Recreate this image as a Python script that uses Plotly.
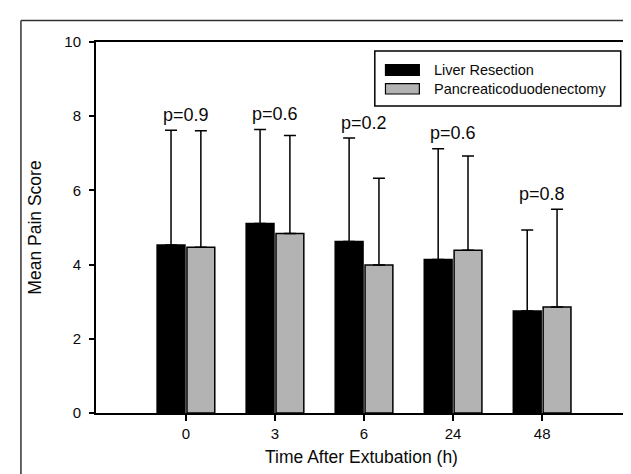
import plotly.graph_objects as go

# ---- data ----
categories = ["0", "3", "6", "24", "48"]
series_names = ["Liver Resection", "Pancreaticoduodenectomy"]
liver_mean = [4.53, 5.11, 4.62, 4.14, 2.75]
liver_sd = [3.09, 2.53, 2.79, 2.98, 2.18]
panc_mean = [4.47, 4.84, 3.99, 4.39, 2.86]
panc_sd = [3.14, 2.64, 2.34, 2.54, 2.63]
p_values = ["p=0.9", "p=0.6", "p=0.2", "p=0.6", "p=0.8"]
y_ticks = [0, 2, 4, 6, 8, 10]

FONT = "Liberation Sans, Arial, sans-serif"
TXT = "#0a0a0a"
GREY = "#b3b3b3"

fig = go.Figure()
for name, mean, sd, color in [
    (series_names[0], liver_mean, liver_sd, "#000000"),
    (series_names[1], panc_mean, panc_sd, GREY),
]:
    fig.add_trace(go.Bar(
        x=categories, y=mean, name=name,
        marker=dict(color=color, line=dict(color="#000000", width=1.5)),
        error_y=dict(type="data", symmetric=False, array=sd,
                     arrayminus=[0] * len(sd), color="#000000",
                     thickness=1.5, width=6),
        showlegend=False,
    ))

# p-value labels above each group (x given as category index)
for i, p in enumerate(p_values):
    top = max(liver_mean[i] + liver_sd[i], panc_mean[i] + panc_sd[i])
    fig.add_annotation(x=i, y=top + 0.42, text=p, showarrow=False,
                       xanchor="center", yanchor="middle",
                       font=dict(family=FONT, size=18, color=TXT))

# plot-area geometry (pixels) for paper-coordinate helpers
L, R, T, B = 88.3, 621.0, 34.0, 405.0
def px(xp):
    return (xp - L) / (R - L)
def py(yp):
    return (B - yp) / (B - T)

# custom legend (wide swatches)
shapes = [
    dict(type="rect", xref="paper", yref="paper",
         x0=px(368), x1=px(614.7), y0=py(98), y1=py(43),
         line=dict(color="#000000", width=1.5), fillcolor="white"),
]
swatch_y = [(56.7, 67.3), (75.7, 86.0)]
swatch_c = ["#000000", GREY]
for (ya, yb), c, name in zip(swatch_y, swatch_c, series_names):
    shapes.append(dict(type="rect", xref="paper", yref="paper",
                       x0=px(378.7), x1=px(412.7), y0=py(yb), y1=py(ya),
                       line=dict(color="#000000", width=1.2), fillcolor=c))
    fig.add_annotation(xref="paper", yref="paper", x=px(425), y=py((ya + yb) / 2),
                       text=name, showarrow=False, xanchor="left", yanchor="middle",
                       font=dict(family=FONT, size=14.5, color=TXT))

# outer frame (left and top edges visible)
shapes.append(dict(type="line", xref="paper", yref="paper",
                   x0=px(13), x1=px(13), y0=py(490), y1=py(12.5),
                   line=dict(color="#333333", width=1.5)))
shapes.append(dict(type="line", xref="paper", yref="paper",
                   x0=px(13), x1=px(650), y0=py(12.5), y1=py(12.5),
                   line=dict(color="#333333", width=1.5)))

fig.update_layout(
    width=631, height=474,
    margin=dict(l=88, r=10, t=34, b=69),
    paper_bgcolor="white", plot_bgcolor="white",
    barmode="group", bargap=0.33, bargroupgap=0.067,
    font=dict(family=FONT, color=TXT),
    shapes=shapes,
    xaxis=dict(
        type="category", range=[-1.01, 4.953],
        showline=True, linecolor="#000000", linewidth=2, mirror=True,
        ticks="outside", ticklen=6, tickwidth=1.5, tickcolor="#000000",
        tickfont=dict(family=FONT, size=15, color=TXT),
        showgrid=False, zeroline=False,
        title=dict(text="Time After Extubation (h)",
                   font=dict(family=FONT, size=17.5, color=TXT), standoff=10),
    ),
    yaxis=dict(
        range=[0, 10], tickvals=y_ticks,
        showline=True, linecolor="#000000", linewidth=2, mirror=True,
        ticks="outside", ticklen=5, tickwidth=1.5, tickcolor="#000000",
        tickfont=dict(family=FONT, size=15, color=TXT), ticklabelstandoff=5,
        showgrid=False, zeroline=False,
        title=dict(text="Mean Pain Score",
                   font=dict(family=FONT, size=17.5, color=TXT), standoff=18),
    ),
)

fig.write_html("out.html")
